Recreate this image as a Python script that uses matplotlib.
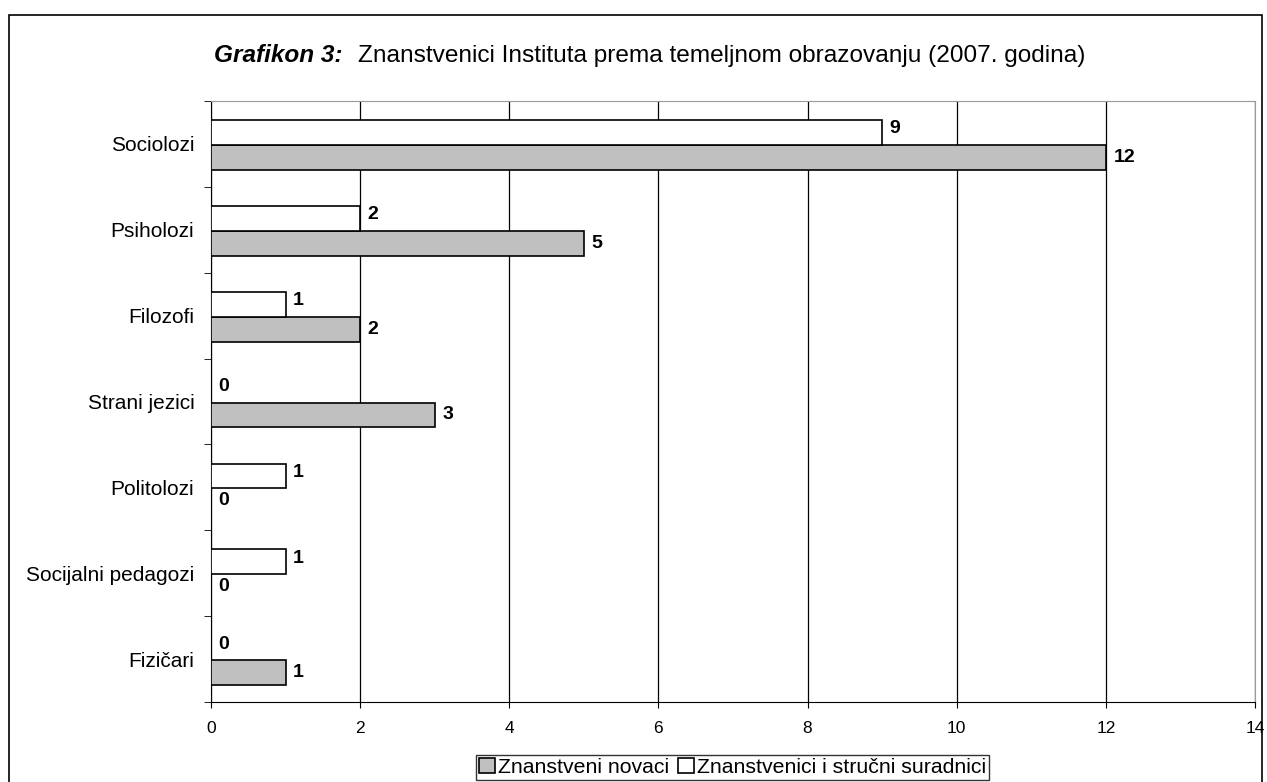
import matplotlib.pyplot as plt
from matplotlib.patches import Rectangle
import numpy as np

plt.rcParams['font.family'] = ['Liberation Sans', 'DejaVu Sans']

categories = ['Sociolozi', 'Psiholozi', 'Filozofi', 'Strani jezici',
              'Politolozi', 'Socijalni pedagozi', 'Fizičari']
novaci = [12, 5, 2, 3, 0, 0, 1]
suradnici = [9, 2, 1, 0, 1, 1, 0]
xticks = [0, 2, 4, 6, 8, 10, 12, 14]

fig = plt.figure(figsize=(12.67, 7.82), dpi=100)
ax = fig.add_axes([0.1665, 0.1023, 0.824, 0.7685])

n = len(categories)
y = np.arange(n)[::-1]
h = 0.29
off = 0.012

ax.barh(y - h / 2 - off, novaci, height=h, color='#c0c0c0', edgecolor='black', linewidth=1.2,
        label='Znanstveni novaci', zorder=3)
ax.barh(y + h / 2 - off, suradnici, height=h, color='white', edgecolor='black', linewidth=1.2,
        label='Znanstvenici i stručni suradnici', zorder=3)

for yi, v in zip(y, novaci):
    ax.text(v + 0.1, yi - h / 2 - off, str(v), va='center', ha='left', fontsize=14, fontweight='bold')
for yi, v in zip(y, suradnici):
    ax.text(v + 0.1, yi + h / 2 + 0.03, str(v), va='center', ha='left', fontsize=14, fontweight='bold')

ax.set_xlim(0, 14)
ax.set_ylim(-0.5, n - 0.5)
ax.set_xticks(xticks)
ax.set_xticklabels([str(t) for t in xticks], fontsize=12.5)
ax.set_yticks(y)
ax.set_yticklabels(categories, fontsize=15)
ax.set_yticks(np.arange(-0.5, n, 1), minor=True)
ax.tick_params(axis='y', which='major', length=0, pad=12)
ax.tick_params(axis='y', which='minor', length=5, direction='out')
ax.tick_params(axis='x', length=4, direction='out', pad=10)
ax.xaxis.grid(True, color='black', linewidth=0.9, zorder=0)
ax.set_axisbelow(True)

ax.spines['top'].set_color('#999999')
ax.spines['right'].set_color('#999999')
ax.spines['left'].set_color('black')
ax.spines['bottom'].set_color('black')

# title: bold italic prefix followed by normal text
t1 = fig.text(0.169, 0.929, 'Grafikon 3:', ha='left', va='center', fontsize=17.6,
              fontweight='bold', fontstyle='italic')
fig.canvas.draw()
bb = t1.get_window_extent().transformed(fig.transFigure.inverted())
fig.text(bb.x1 + 0.012, 0.929, 'Znanstvenici Instituta prema temeljnom obrazovanju (2007. godina)',
         ha='left', va='center', fontsize=17.6)

handles, labels = ax.get_legend_handles_labels()
fig.legend(handles, labels, loc='upper center', bbox_to_anchor=(0.578, 0.035), ncol=2,
           fontsize=15.3, frameon=True, fancybox=False, edgecolor='black',
           handlelength=0.75, handleheight=0.75, handletextpad=0.15, columnspacing=0.4,
           borderpad=0.15, borderaxespad=0)

fig.patches.append(Rectangle((0.007, -0.1), 0.989, 1.081, transform=fig.transFigure,
                             fill=False, edgecolor='black', linewidth=1.2))

fig.savefig('out.png', dpi=100)
